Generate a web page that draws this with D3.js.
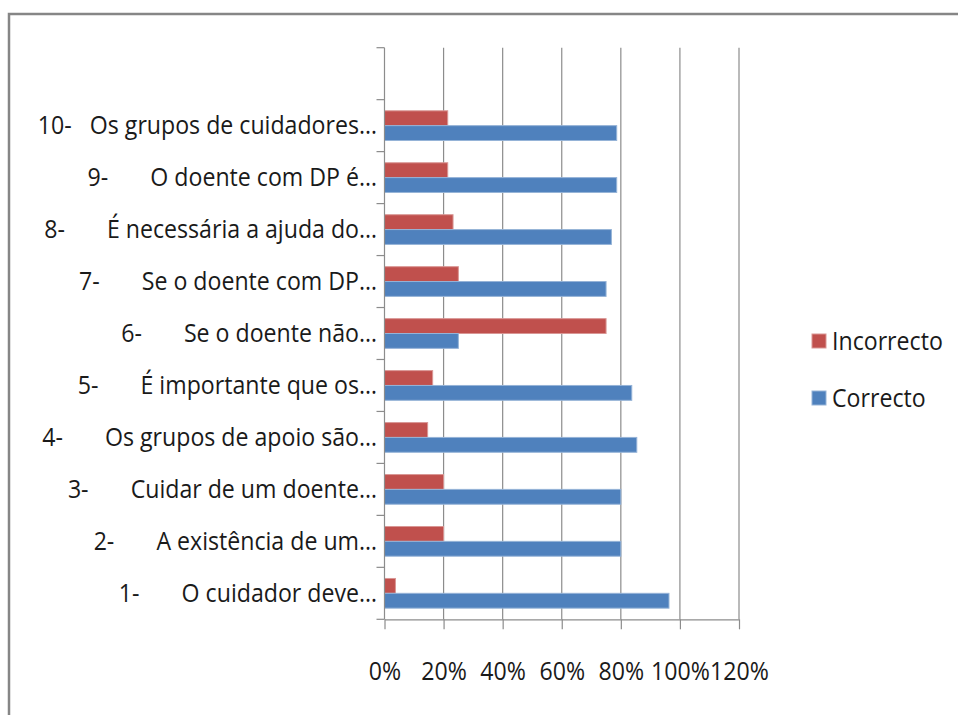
<!DOCTYPE html>
<html>
<head>
<meta charset="utf-8">
<script src="https://cdn.jsdelivr.net/npm/d3@7"></script>
<style>
  body { margin: 0; background: #fff; }
  svg text { font-family: "Open Sans", sans-serif; fill: #1a1a1a; white-space: pre; }
</style>
</head>
<body>
<div id="chart"></div>
<script>
// categories, bottom (1) to top (10)
const categories = [
  "1-       O cuidador deve…",
  "2-       A existência de um…",
  "3-       Cuidar de um doente…",
  "4-       Os grupos de apoio são…",
  "5-       É importante que os…",
  "6-       Se o doente não…",
  "7-       Se o doente com DP…",
  "8-       É necessária a ajuda do…",
  "9-       O doente com DP é…",
  "10-   Os grupos de cuidadores…"
];
const series = ["Incorrecto", "Correcto"];
const incorrecto = [0.037, 0.20, 0.20, 0.146, 0.163, 0.75, 0.25, 0.232, 0.214, 0.214];
const correcto   = [0.963, 0.80, 0.80, 0.854, 0.837, 0.25, 0.75, 0.768, 0.786, 0.786];
const xTicks = [0, 0.2, 0.4, 0.6, 0.8, 1.0, 1.2];
const colors = {Incorrecto: "#C0504D", Correcto: "#4F81BD"};
const strokes = {Incorrecto: "#D99694", Correcto: "#95B3D7"};

const W = 958, H = 715;
const sx = 0.89; // text is a bit narrow in the original

const svg = d3.select("#chart").append("svg")
    .attr("width", W)
    .attr("height", H);

svg.append("rect")
    .attr("width", W).attr("height", H)
    .attr("fill", "#fff");

// outer frame
svg.append("rect")
    .attr("x", 9).attr("y", 14)
    .attr("width", W + 20).attr("height", H + 20)
    .attr("fill", "none")
    .attr("stroke", "#868686")
    .attr("stroke-width", 2.5);

const plot = {left: 384.5, right: 739, top: 47.7, bottom: 619.3};

const x = d3.scaleLinear()
    .domain([0, 1.2])
    .range([plot.left, plot.right]);

// one empty slot at the top, then 10 .. 1
const slots = ["__blank__"].concat(categories.slice().reverse());
const y = d3.scaleBand()
    .domain(slots)
    .range([plot.top, plot.bottom]);

const inner = d3.scaleBand()
    .domain(series)
    .range([0, y.bandwidth()])
    .paddingInner(0)
    .paddingOuter(0.75);

// gridlines
svg.append("g")
  .selectAll("line")
  .data(xTicks.slice(1))
  .join("line")
    .attr("x1", d => x(d)).attr("x2", d => x(d))
    .attr("y1", plot.top).attr("y2", plot.bottom)
    .attr("stroke", "#8c8c8c")
    .attr("stroke-width", 1.2);

// bars
const rows = categories.map((c, i) => ({cat: c, Incorrecto: incorrecto[i], Correcto: correcto[i]}));

const rowG = svg.append("g")
  .selectAll("g")
  .data(rows)
  .join("g")
    .attr("transform", d => "translate(0," + y(d.cat) + ")");

rowG.selectAll("rect")
  .data(d => series.map(s => ({key: s, value: d[s]})))
  .join("rect")
    .attr("x", x(0))
    .attr("y", d => inner(d.key))
    .attr("width", d => x(d.value) - x(0))
    .attr("height", inner.bandwidth())
    .attr("fill", d => colors[d.key])
    .attr("stroke", d => strokes[d.key])
    .attr("stroke-width", 1);

// x axis
const xAxis = svg.append("g")
    .attr("transform", "translate(0," + plot.bottom + ")")
    .call(d3.axisBottom(x)
      .tickValues(xTicks)
      .tickFormat(d3.format(".0%"))
      .tickSize(10)
      .tickPadding(32)
      .tickSizeOuter(0));
xAxis.select(".domain").attr("stroke", "#8c8c8c").attr("stroke-width", 1.2);
xAxis.selectAll(".tick line").attr("stroke", "#8c8c8c").attr("stroke-width", 1.2);
xAxis.selectAll("text")
    .attr("font-size", 26)
    .attr("fill", "#1a1a1a")
    .attr("transform", "scale(" + sx + ",1)");

// y axis: line and ticks on band edges
const edges = slots.map(s => y(s)).concat([plot.bottom]);
const yAxis = svg.append("g");
yAxis.append("line")
    .attr("x1", plot.left).attr("x2", plot.left)
    .attr("y1", plot.top).attr("y2", plot.bottom)
    .attr("stroke", "#8c8c8c").attr("stroke-width", 1.2);
yAxis.selectAll(".edge")
  .data(edges)
  .join("line")
    .attr("class", "edge")
    .attr("x1", plot.left - 8).attr("x2", plot.left)
    .attr("y1", d => d).attr("y2", d => d)
    .attr("stroke", "#8c8c8c").attr("stroke-width", 1.2);

// category labels
svg.append("g")
  .selectAll("text")
  .data(categories)
  .join("text")
    .attr("transform", d => "translate(377," + (y(d) + y.bandwidth() / 2) + ") scale(" + sx + ",1)")
    .attr("text-anchor", "end")
    .attr("dy", "0.34em")
    .attr("font-size", 26)
    .text(d => d);

// legend
const legendItems = series.slice(); // Incorrecto on top
const legend = svg.append("g")
  .selectAll("g")
  .data(legendItems)
  .join("g")
    .attr("transform", (d, i) => "translate(812," + (341 + i * 57) + ")");
legend.append("rect")
    .attr("x", 0).attr("y", -7)
    .attr("width", 14).attr("height", 14)
    .attr("fill", d => colors[d])
    .attr("stroke", d => strokes[d])
    .attr("stroke-width", 1);
legend.append("text")
    .attr("transform", "translate(20,0) scale(" + sx + ",1)")
    .attr("dy", "0.36em")
    .attr("font-size", 26)
    .text(d => d);
</script>
</body>
</html>
